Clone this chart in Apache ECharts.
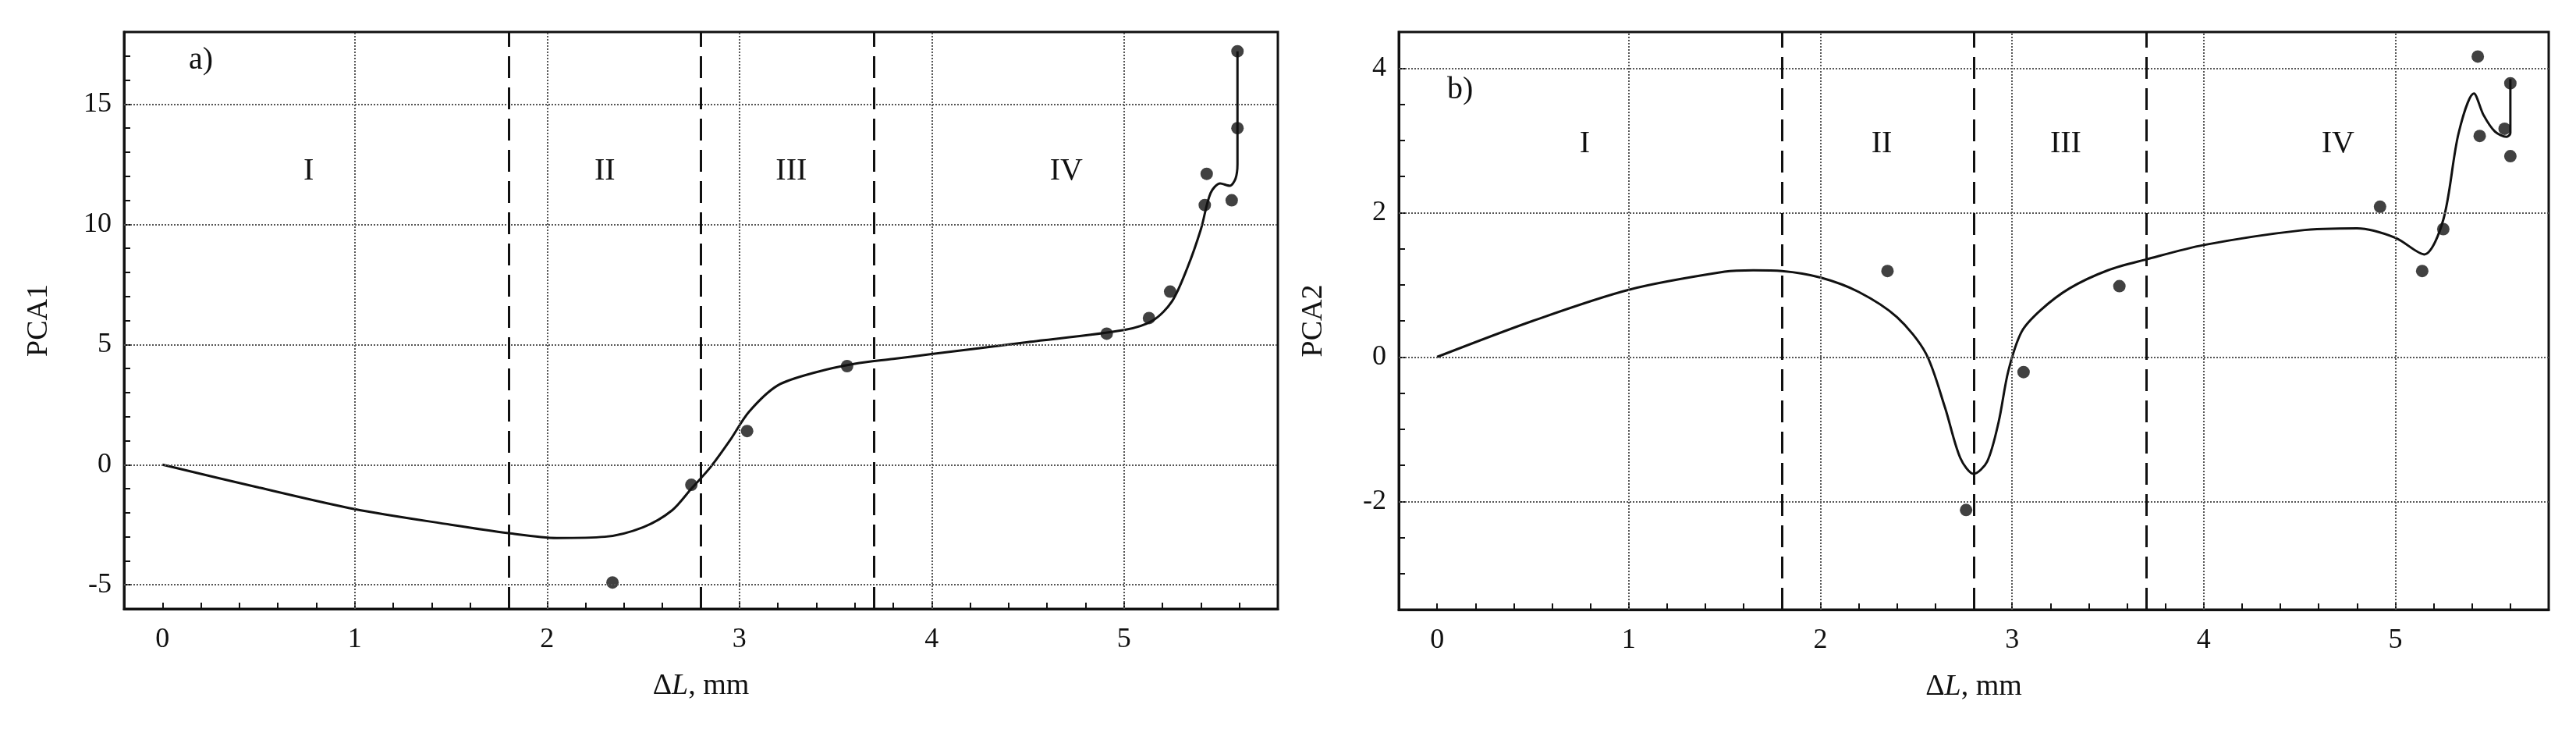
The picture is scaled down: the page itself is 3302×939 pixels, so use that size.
<!DOCTYPE html>
<html>
<head>
<meta charset="utf-8">
<script src="https://cdn.jsdelivr.net/npm/echarts@6/dist/echarts.min.js"></script>
<style>html,body{margin:0;padding:0;background:#fff}#chart{width:3302px;height:939px}</style>
</head>
<body>
<div id="chart"></div>
<script>
// a) PCA1
const pointsA = [[2.34,-4.9],[2.75,-0.84],[3.04,1.4],[3.56,4.1],[4.91,5.45],[5.13,6.1],[5.24,7.2],[5.42,10.8],[5.43,12.1],[5.56,11.0],[5.59,14.0],[5.59,17.2]]
const curveA = [[0,0],[0.5,-0.95],[1,-1.85],[1.5,-2.5],[1.8,-2.85],[2.05,-3.05],[2.3,-3.0],[2.5,-2.6],[2.65,-1.9],[2.75,-1.0],[2.85,-0.1],[2.95,1.0],[3.05,2.2],[3.2,3.3],[3.4,3.85],[3.6,4.2],[3.8,4.4],[4,4.6],[4.5,5.1],[5,5.6],[5.15,6.0],[5.25,6.8],[5.33,8.2],[5.4,9.8],[5.45,11.3],[5.5,11.7],[5.55,11.6],[5.58,11.9],[5.59,12.5],[5.59,14],[5.59,17.2]]
// b) PCA2
const pointsB = [[2.35,1.19],[2.76,-2.12],[3.06,-0.21],[3.56,0.98],[4.92,2.08],[5.14,1.19],[5.25,1.77],[5.43,4.16],[5.44,3.06],[5.57,3.16],[5.6,3.79],[5.6,2.78]]
const curveB = [[0,0],[0.5,0.5],[1,0.93],[1.5,1.18],[1.65,1.2],[1.8,1.19],[2.0,1.1],[2.2,0.9],[2.4,0.55],[2.55,0.05],[2.65,-0.7],[2.73,-1.4],[2.8,-1.62],[2.87,-1.45],[2.93,-0.9],[2.98,-0.2],[3.05,0.35],[3.15,0.65],[3.3,0.95],[3.5,1.2],[3.7,1.35],[4,1.55],[4.5,1.75],[4.8,1.78],[5.0,1.65],[5.15,1.42],[5.25,1.9],[5.33,3.1],[5.41,3.65],[5.46,3.35],[5.52,3.12],[5.58,3.05],[5.6,3.1],[5.6,3.85]]
const zoneLines = [1.8, 2.8, 3.7]
const zoneNames = ['I', 'II', 'III', 'IV']
const zoneXA = [0.76, 2.3, 3.27, 4.7]
const zoneXB = [0.77, 2.32, 3.28, 4.7]
const gridYA = [-5, 0, 5, 10, 15]
const gridYB = [-2, 0, 2, 4]
const gridX = [1, 2, 3, 4, 5]

const font = 'Liberation Serif'
const chart = echarts.init(document.getElementById('chart'))

function isInt (v) { return Math.abs(v - Math.round(v)) < 1e-6 }

function xAxis (gi) {
  return {
    type: 'value', gridIndex: gi, min: -0.2, max: 5.8, interval: 0.2,
    name: '{d|Δ}{i|L}{d|, mm}', nameLocation: 'middle', nameGap: 80,
    nameTextStyle: { rich: { d: { fontFamily: font, fontSize: 38, color: '#111' }, i: { fontFamily: font, fontSize: 38, fontStyle: 'italic', color: '#111' } } },
    axisLine: { onZero: false, lineStyle: { color: '#111', width: 3 } },
    axisTick: { inside: true, length: 8, lineStyle: { color: '#111', width: 2 } },
    axisLabel: { fontFamily: font, fontSize: 36, color: '#111', margin: 22, formatter: v => isInt(v) && v >= 0 ? String(Math.round(v)) : '' },
    splitLine: { show: false }
  }
}

function yAxis (gi, min, max, interval, step, name) {
  return {
    type: 'value', gridIndex: gi, min: min, max: max, interval: interval,
    name: name, nameLocation: 'middle', nameGap: 90,
    nameTextStyle: { fontFamily: font, fontSize: 38, color: '#111' },
    axisLine: { onZero: false, lineStyle: { color: '#111', width: 3 } },
    axisTick: { inside: true, length: 8, lineStyle: { color: '#111', width: 2 } },
    axisLabel: { fontFamily: font, fontSize: 36, color: '#111', margin: 16, formatter: v => isInt(v / step) ? String(Math.round(v)) : '' },
    splitLine: { show: false }
  }
}

function overlay (gi, gridY, zoneX, zoneY, tag, tagPos) {
  const dotted = { type: 'dotted', color: '#555', width: 2 }
  return {
    type: 'line', xAxisIndex: gi, yAxisIndex: gi, data: [], silent: true,
    markLine: {
      symbol: 'none', silent: true, label: { show: false },
      data: [
        ...gridY.map(v => ({ yAxis: v, lineStyle: dotted })),
        ...gridX.map(v => ({ xAxis: v, lineStyle: dotted })),
        ...zoneLines.map(v => ({ xAxis: v, lineStyle: { type: [28, 12], color: '#111', width: 3 } }))
      ]
    },
    markPoint: {
      symbol: 'rect', symbolSize: 1, itemStyle: { color: 'transparent' },
      label: { show: true, position: 'inside', fontFamily: font, fontSize: 40, color: '#111', formatter: p => p.name },
      data: [
        ...zoneNames.map((n, i) => ({ name: n, coord: [zoneX[i], zoneY] })),
        { name: tag, coord: tagPos }
      ]
    }
  }
}

chart.setOption({
  backgroundColor: '#fff',
  animation: false,
  grid: [
    { left: 159, top: 41, width: 1479, height: 739, show: true, borderColor: '#111', borderWidth: 3 },
    { left: 1793, top: 41, width: 1474, height: 740, show: true, borderColor: '#111', borderWidth: 3 }
  ],
  xAxis: [xAxis(0), xAxis(1)],
  yAxis: [yAxis(0, -6, 18, 1, 5, 'PCA1'), yAxis(1, -3.5, 4.5, 0.5, 2, 'PCA2')],
  series: [
    overlay(0, gridYA, zoneXA, 12.2, 'a)', [0.2, 16.8]),
    overlay(1, gridYB, zoneXB, 2.95, 'b)', [0.12, 3.7]),
    { type: 'line', xAxisIndex: 0, yAxisIndex: 0, data: curveA, smooth: 0.3, showSymbol: false, lineStyle: { color: '#111', width: 3 } },
    { type: 'line', xAxisIndex: 1, yAxisIndex: 1, data: curveB, smooth: 0.3, showSymbol: false, lineStyle: { color: '#111', width: 3 } },
    { type: 'scatter', xAxisIndex: 0, yAxisIndex: 0, data: pointsA, symbolSize: 16, itemStyle: { color: '#111' } },
    { type: 'scatter', xAxisIndex: 1, yAxisIndex: 1, data: pointsB, symbolSize: 16, itemStyle: { color: '#111' } }
  ]
})
</script>
</body>
</html>
